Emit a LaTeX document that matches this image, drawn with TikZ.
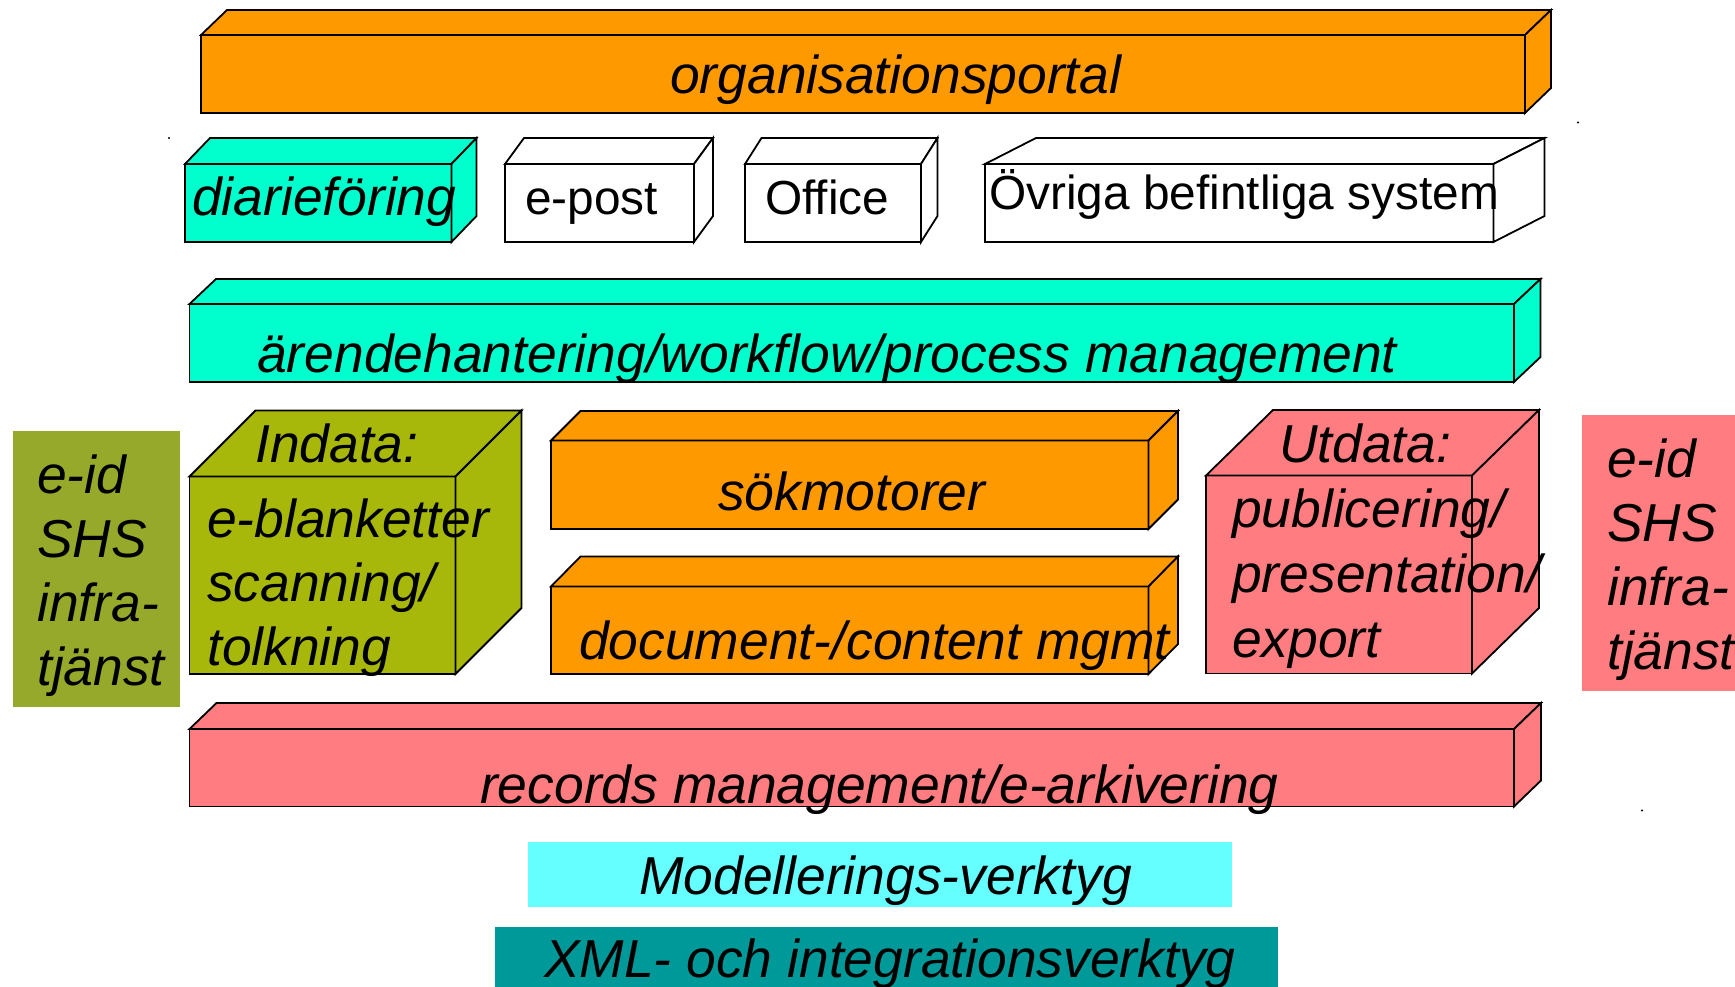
\documentclass[tikz,border=0pt]{standalone}
\usepackage{fontspec}
\setmainfont{Liberation Sans}
\definecolor{orangebox}{HTML}{FF9900}
\definecolor{aquabox}{HTML}{00FFCC}
\definecolor{salmonbox}{HTML}{FF7C80}
\definecolor{olivebox}{HTML}{A8B80A}
\definecolor{olivedull}{HTML}{96A92A}
\definecolor{modelbox}{HTML}{66FFFF}
\definecolor{xmlbox}{HTML}{009999}
\newcommand\bigtxt{\fontsize{53.4}{64}\selectfont\itshape}
\newcommand\midtxt{\fontsize{47.8}{57}\selectfont}
% x1 top x2 bottom dx dy colour
\newcommand\drawbox[7]{%
  \filldraw[boxline, fill=#7] (#1,#2) rectangle (#3,#4);
  \filldraw[boxline, fill=#7] (#1,#2) -- (#1+#5,#2-#6) -- (#3+#5,#2-#6) -- (#3,#2) -- cycle;
  \filldraw[boxline, fill=#7] (#3,#2) -- (#3+#5,#2-#6) -- (#3+#5,#4-#6) -- (#3,#4) -- cycle;
}
\begin{document}
\begin{tikzpicture}[x=1pt,y=-1pt,
  boxline/.style={draw=black, line width=1.8pt, line join=miter},
  lbl/.style={anchor=base west, inner sep=0pt, font=\bigtxt, xshift=3pt, yshift=-1pt},
  lblup/.style={anchor=base west, inner sep=0pt, font=\midtxt}]
\useasboundingbox (0,0) rectangle (1735,987);
\fill[white] (0,0) rectangle (1735,987);

% flat panels
\fill[olivedull] (13,431) rectangle (180,707);
\fill[salmonbox] (1582,415) rectangle (1740,691);
\fill[modelbox] (528,842) rectangle (1232,907);
\fill[xmlbox] (495,927) rectangle (1278,990);

% cuboids
\drawbox{201}{35}{1525}{113}{26}{25}{orangebox}
\drawbox{185}{164}{451.5}{242}{25}{26}{aquabox}
\drawbox{505}{164}{694}{242}{19}{26}{white}
\drawbox{745}{164}{921}{242}{16.5}{26}{white}
\drawbox{985}{164}{1493.5}{242}{51}{26}{white}
\drawbox{189.5}{304}{1514}{382}{26.5}{25}{aquabox}
\drawbox{189.5}{476.5}{455.5}{674}{66}{66}{olivebox}
\drawbox{551}{440.5}{1148.5}{529}{29.5}{29.5}{orangebox}
\drawbox{551}{586.5}{1148.5}{674}{29.5}{30}{orangebox}
\drawbox{1206}{475.5}{1472}{673.5}{67}{65.5}{salmonbox}
\drawbox{189.5}{729}{1514}{806.5}{27}{26}{salmonbox}

% small dots
\fill (169,138) circle (1.2);
\fill (1578,122.5) circle (1.2);
\fill (1642,810.5) circle (1.2);

% texts
\node[lbl] (portal) at (667,93) {organisationsportal};
\node[lbl] (diar) at (189,215) {diarieföring};
\node[lblup] (epost) at (525,215) {e-post};
\node[lblup] (office) at (765,215) {Office};
\node[lblup] (ovriga) at (989,210) {Övriga befintliga system};
\node[lbl] (arende) at (254,371.5) {ärendehantering/workflow/process management};
\node[lbl] (indata) at (252,461.5) {Indata:};
\node[lbl] (in1) at (204,536.5) {e-blanketter};
\node[lbl] (in2) at (204,600.5) {scanning/};
\node[lbl] (in3) at (204,664.5) {tolkning};
\node[lbl] (sok) at (715,509) {sökmotorer};
\node[lbl] (doc) at (576,658) {document-/content mgmt};
\node[lbl] (utdata) at (1276,461.5) {Utdata:};
\node[lbl] (ut1) at (1229,526.5) {publicering/};
\node[lbl] (ut2) at (1229,591.5) {presentation/};
\node[lbl] (ut3) at (1229,656.5) {export};
\node[lbl] (records) at (477,802) {records management/e-arkivering};
\node[lbl] (le1) at (34,492.5) {e-id};
\node[lbl] (le2) at (34,556.5) {SHS};
\node[lbl] (le3) at (34,620.5) {infra-};
\node[lbl] (le4) at (34,684.5) {tjänst};
\node[lbl] (re1) at (1604,476.5) {e-id};
\node[lbl] (re2) at (1604,540.5) {SHS};
\node[lbl] (re3) at (1604,604.5) {infra-};
\node[lbl] (re4) at (1604,668.5) {tjänst};
\node[lbl] (model) at (636,893) {Modellerings-verktyg};
\node[lbl] (xml) at (541,976.5) {XML- och integrationsverktyg};
\end{tikzpicture}
\end{document}
